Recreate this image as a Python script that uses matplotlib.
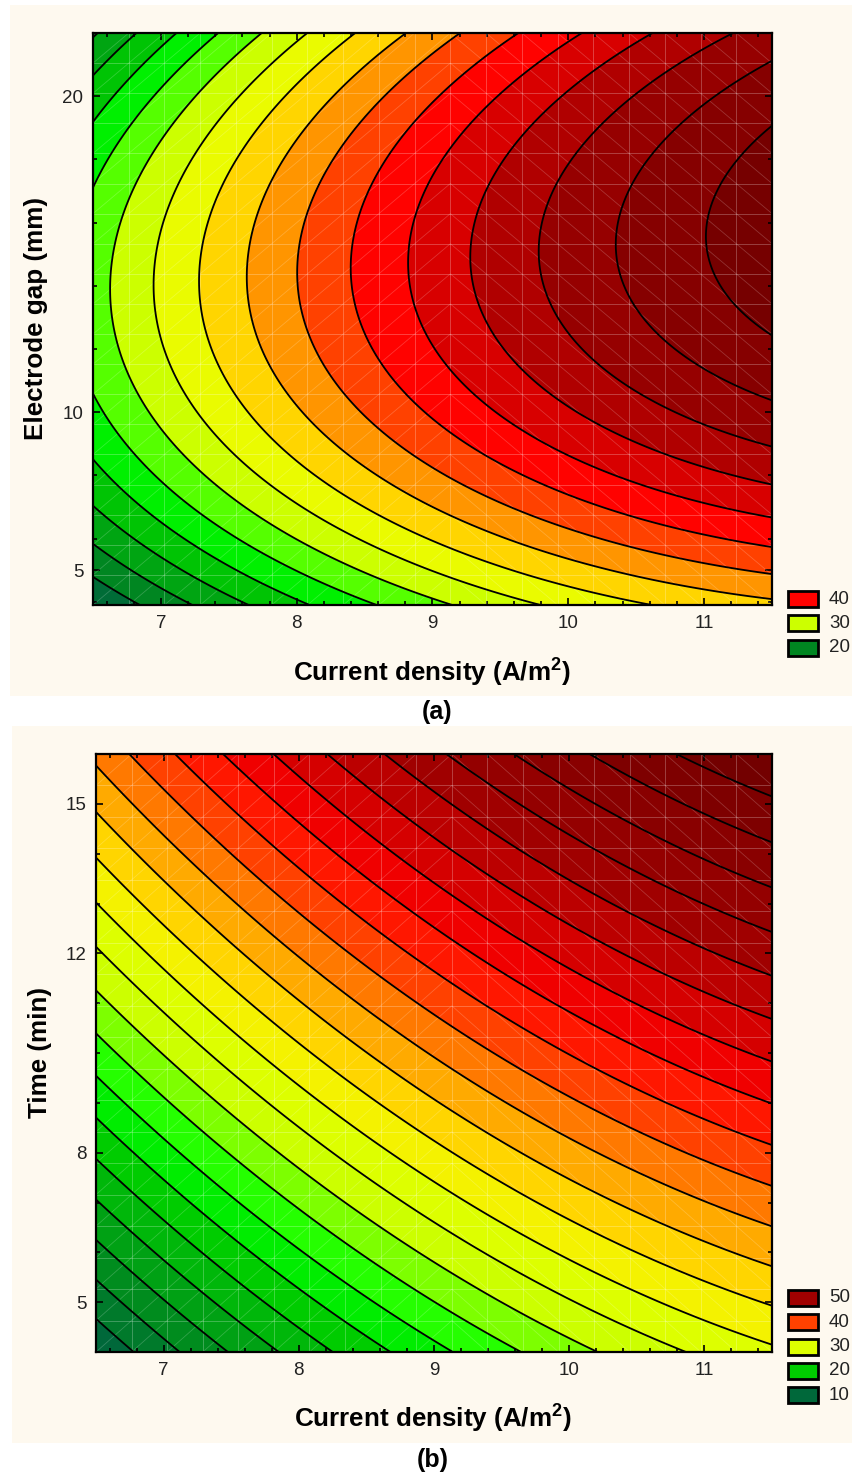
import numpy as np
import matplotlib.pyplot as plt
from matplotlib.colors import LinearSegmentedColormap, Normalize
from matplotlib.collections import LineCollection
from matplotlib.patches import Rectangle
from matplotlib.ticker import MultipleLocator

plt.rcParams['font.family'] = ['Liberation Sans', 'DejaVu Sans']
plt.rcParams['mathtext.fontset'] = 'custom'
plt.rcParams['mathtext.rm'] = 'Liberation Sans'
plt.rcParams['mathtext.bf'] = 'Liberation Sans:bold'

# response surfaces:
# Z = b0 + b1*x + b2*y + b11*x^2 + b22*y^2 + b12*x*y
coef_a = [-44.994, 10.911, 2.549, -0.4312, -0.112, 0.0851]   # current density vs electrode gap
coef_b = [-57.43, 11.34, 2.73, -0.393, -0.019, 0.0]          # current density vs time

x_range = [6.5, 11.5]
gap_range = [3.9, 22.0]
time_range = [4.0, 16.0]

levels_a = np.arange(18, 54, 2)
levels_b = np.arange(10, 62, 2)
legend_a = [40, 30, 20]
legend_b = [50, 40, 30, 20, 10]

xticks = [7, 8, 9, 10, 11]
yticks_a = [5, 10, 20]
yticks_b = [5, 8, 12, 15]

W, H = 854, 1475
CREAM = '#fef9ef'

cmap = LinearSegmentedColormap.from_list('stat', [
    (0.00, '#005f41'), (0.09, '#008820'), (0.22, '#00cc00'), (0.28, '#00ff00'),
    (0.38, '#ccff00'), (0.42, '#ddff00'), (0.45, '#f2f800'), (0.50, '#ffd700'),
    (0.56, '#ff9600'), (0.62, '#ff4000'), (0.68, '#ff0000'), (0.82, '#a00000'),
    (1.00, '#6e0000')])


def fx(px):
    return px / W


def fy(py):
    return 1 - py / H


def surface(coef, yr):
    xs = np.linspace(x_range[0], x_range[1], 300)
    ys = np.linspace(yr[0], yr[1], 300)
    X, Y = np.meshgrid(xs, ys)
    b0, b1, b2, b11, b22, b12 = coef
    Z = b0 + b1 * X + b2 * Y + b11 * X ** 2 + b22 * Y ** 2 + b12 * X * Y
    return X, Y, Z


def draw_mesh(ax, yr, n=19, split=10):
    # faint triangulation of the fitted surface
    gx = np.linspace(x_range[0], x_range[1], n + 1)
    gy = np.linspace(yr[0], yr[1], n + 1)
    grid = [[(v, yr[0]), (v, yr[1])] for v in gx] + \
           [[(x_range[0], v), (x_range[1], v)] for v in gy]
    diag = []
    for i in range(n):
        for j in range(n):
            if i < split:
                diag.append([(gx[i], gy[j]), (gx[i + 1], gy[j + 1])])
            else:
                diag.append([(gx[i], gy[j + 1]), (gx[i + 1], gy[j])])
    ax.add_collection(LineCollection(grid, colors='white', linewidths=0.7, alpha=0.25))
    ax.add_collection(LineCollection(diag, colors='white', linewidths=0.6, alpha=0.2))


def panel(ax, coef, yr, levels, yticks, legend_vals, leg_top):
    X, Y, Z = surface(coef, yr)
    norm = Normalize(levels[0], levels[-1])
    ax.contourf(X, Y, Z, levels=levels, cmap=cmap, norm=norm)
    draw_mesh(ax, yr)
    ax.contour(X, Y, Z, levels=levels[1:-1], colors='black', linewidths=1.3)
    ax.set_xlim(x_range)
    ax.set_ylim(yr)
    ax.set_xticks(xticks)
    ax.set_yticks(yticks)
    ax.xaxis.set_minor_locator(MultipleLocator(0.2))
    ax.yaxis.set_minor_locator(MultipleLocator(1 if yr[1] < 20 else 2))
    ax.tick_params(which='both', direction='in', top=True, right=True, width=1.2)
    ax.tick_params(which='major', length=5, labelsize=13.5, pad=7, labelcolor='#222222')
    ax.tick_params(which='minor', length=3)
    for s in ax.spines.values():
        s.set_linewidth(1.6)
    # legend boxes
    fig = ax.figure
    for k, v in enumerate(legend_vals):
        cy = leg_top + 24.3 * k
        fig.patches.append(Rectangle((fx(788), fy(cy + 8)), 30 / W, 16 / H,
                                     transform=fig.transFigure, facecolor=cmap(norm(v + 1)),
                                     edgecolor='black', linewidth=2))
        fig.text(fx(829), fy(cy), str(v), fontsize=13.5, va='center', ha='left', color='#222222')


fig = plt.figure(figsize=(W / 100, H / 100), dpi=100, facecolor='white')
fig.patches.append(Rectangle((fx(10), fy(696)), (852 - 10) / W, (696 - 5) / H,
                             transform=fig.transFigure, facecolor=CREAM, edgecolor='none', zorder=-5))
fig.patches.append(Rectangle((fx(12), fy(1443)), (852 - 12) / W, (1443 - 726) / H,
                             transform=fig.transFigure, facecolor=CREAM, edgecolor='none', zorder=-5))

ax_a = fig.add_axes([fx(93), fy(605), (772 - 93) / W, (605 - 33) / H])
panel(ax_a, coef_a, gap_range, levels_a, yticks_a, legend_a, 599)

ax_b = fig.add_axes([fx(96), fy(1352), (772 - 96) / W, (1352 - 754) / H])
panel(ax_b, coef_b, time_range, levels_b, yticks_b, legend_b, 1298)

xlab = r'Current density (A/m$^{\mathbf{2}}$)'
fig.text(fx(432), fy(672), xlab, fontsize=18.7, fontweight='bold', ha='center', va='center')
fig.text(fx(36), fy(318), 'Electrode gap (mm)', fontsize=18.7, fontweight='bold',
         rotation=90, ha='center', va='center')
fig.text(fx(437), fy(712), '(a)', fontsize=18, fontweight='bold', ha='center', va='center')

fig.text(fx(433), fy(1418), xlab, fontsize=18.7, fontweight='bold', ha='center', va='center')
fig.text(fx(40), fy(1053), 'Time (min)', fontsize=18.7, fontweight='bold',
         rotation=90, ha='center', va='center')
fig.text(fx(433), fy(1460), '(b)', fontsize=18, fontweight='bold', ha='center', va='center')

fig.savefig('out.png', dpi=100, facecolor='white')
